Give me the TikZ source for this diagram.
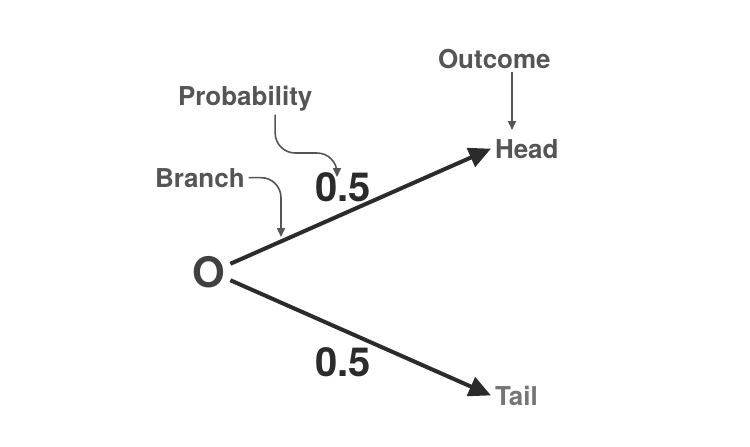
\documentclass[tikz,border=0pt]{standalone}
\usepackage{fontspec}
\setmainfont{TeX Gyre Heros}
\usetikzlibrary{arrows.meta}
\definecolor{labelgray}{HTML}{555555}
\definecolor{tailgray}{HTML}{757575}
\definecolor{branchgray}{HTML}{2B2B2B}

\begin{document}
\begin{tikzpicture}[
x=0.5pt,
y=-0.5pt,
label/.style={
  inner sep=0pt,
  outer sep=2pt,
  anchor=base west,
  text=labelgray,
  font=\fontsize{13}{15}\selectfont\bfseries
  },
prob/.style={
  inner sep=0pt,
  anchor=base west,
  text=branchgray,
  font=\fontsize{20}{24}\selectfont\bfseries
  },
branch/.style={
  draw=branchgray,
  line width=2pt,
  -{Triangle[length=11pt,width=10pt]}
  },
pointer/.style={
  draw=labelgray,
  line width=0.8pt,
  rounded corners=10pt,
  -{Triangle[length=4.5pt,width=4pt]}
  }
]
\useasboundingbox (0,0) rectangle (750,446);
\node[inner sep=0pt,outer sep=2.5pt,text=branchgray!90,font=\fontsize{21}{25}\selectfont\bfseries] (O) at (209,272) {O};
\node[label] (Head) at (491,158) {Head};
\node[label,text=tailgray] (Tail) at (491,405) {Tail};
\node[prob] (pHead) at (315,201.5) {0.5};
\node[prob] (pTail) at (315,376.5) {0.5};
\node[label] (Outcome) at (434,68) {Outcome};
\node[label] (Probability) at (174,105) {Probability};
\node[label] (Branch) at (151,187) {Branch};
\coordinate (outcome tip) at (512,130);
\coordinate (prob bend) at (337,153);
\coordinate (prob tip) at (337,177);
\coordinate (branch tip) at (281,237);
\draw[branch] (O.21) -- (Head.west);
\draw[branch] (O.-21) -- (Tail.west);
\draw[pointer] (Outcome.south -| outcome tip) -- (outcome tip);
\draw[pointer] ([xshift=15pt]Probability.south) |- (prob bend) -- (prob tip);
\draw[pointer] (Branch.east) -| (branch tip);
\end{tikzpicture}
\end{document}
